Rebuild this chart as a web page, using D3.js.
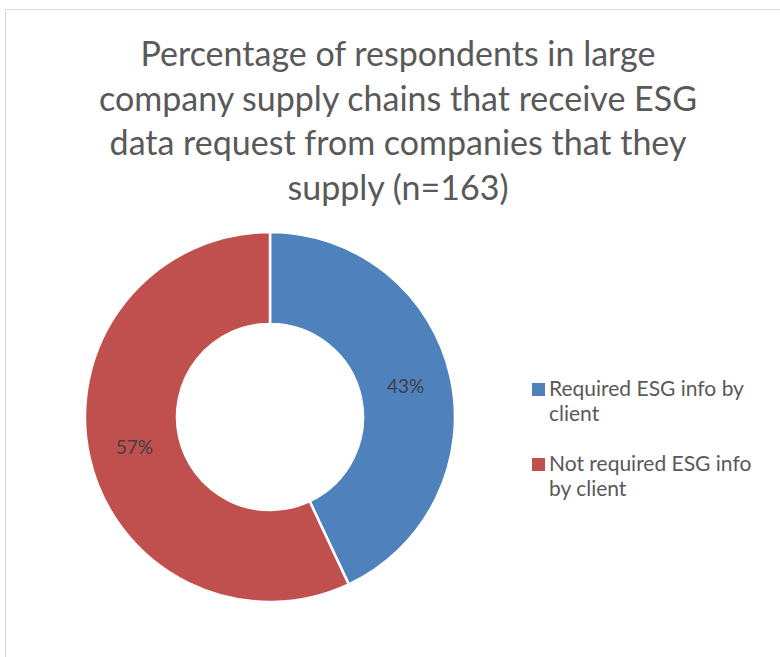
<!DOCTYPE html>
<html>
<head>
<meta charset="utf-8">
<script src="https://cdn.jsdelivr.net/npm/d3@7"></script>
<style>
  body { margin: 0; background: #fff; }
  svg { display: block; font-family: Lato, "Open Sans", sans-serif; }
</style>
</head>
<body>
<svg id="chart" width="780" height="657"></svg>
<script>
const categories = ["Required ESG info by client", "Not required ESG info by client"];
const values = [43, 57];
const colors = ["#4F81BD", "#C0504D"];
const titleLines = [
  "Percentage of respondents in large",
  "company supply chains that receive ESG",
  "data request from companies that they",
  "supply (n=163)"
];
const legendLines = [["Required ESG info by", "client"], ["Not required ESG info", "by client"]];

const svg = d3.select("#chart");
const width = 780, height = 657;

// chart area border
svg.append("path")
  .attr("d", `M5.5,${height} V9.5 H${width}`)
  .attr("fill", "none")
  .attr("stroke", "#d9d9d9")
  .attr("stroke-width", 1);

// title
svg.append("g").selectAll("text")
  .data(titleLines)
  .enter()
  .append("text")
  .attr("x", 398)
  .attr("y", (d, i) => 66 + i * 44.5)
  .attr("text-anchor", "middle")
  .attr("fill", "#595959")
  .style("font-size", "34px")
  .text(d => d);

const cx = 270, cy = 417, outer = 185, inner = 93;
const pie = d3.pie().sort(null).value(d => d);
const arc = d3.arc().innerRadius(inner).outerRadius(outer);
const labelArc = d3.arc().innerRadius(inner).outerRadius(outer);

const g = svg.append("g").attr("transform", `translate(${cx},${cy})`);
const arcs = pie(values);

g.selectAll("path")
  .data(arcs)
  .enter()
  .append("path")
  .attr("d", arc)
  .attr("fill", (d, i) => colors[i])
  .attr("stroke", "#fff")
  .attr("stroke-width", 2.5);

g.selectAll("text")
  .data(arcs)
  .enter()
  .append("text")
  .attr("transform", d => `translate(${labelArc.centroid(d)})`)
  .attr("text-anchor", "middle")
  .attr("dy", "0.35em")
  .attr("fill", "#404040")
  .style("font-size", "19px")
  .text(d => d.data + "%");

// legend
const legend = svg.append("g").attr("transform", "translate(532,383)");
const item = legend.selectAll("g")
  .data(categories)
  .enter()
  .append("g")
  .attr("transform", (d, i) => `translate(0,${i * 75})`);

item.append("rect")
  .attr("width", 13)
  .attr("height", 13)
  .attr("fill", (d, i) => colors[i]);

item.append("g").selectAll("text")
  .data((d, i) => legendLines[i])
  .enter()
  .append("text")
  .attr("x", 17)
  .attr("y", (d, j) => 13 + j * 25)
  .attr("fill", "#595959")
  .style("font-size", "21px")
  .text(d => d);
</script>
</body>
</html>
